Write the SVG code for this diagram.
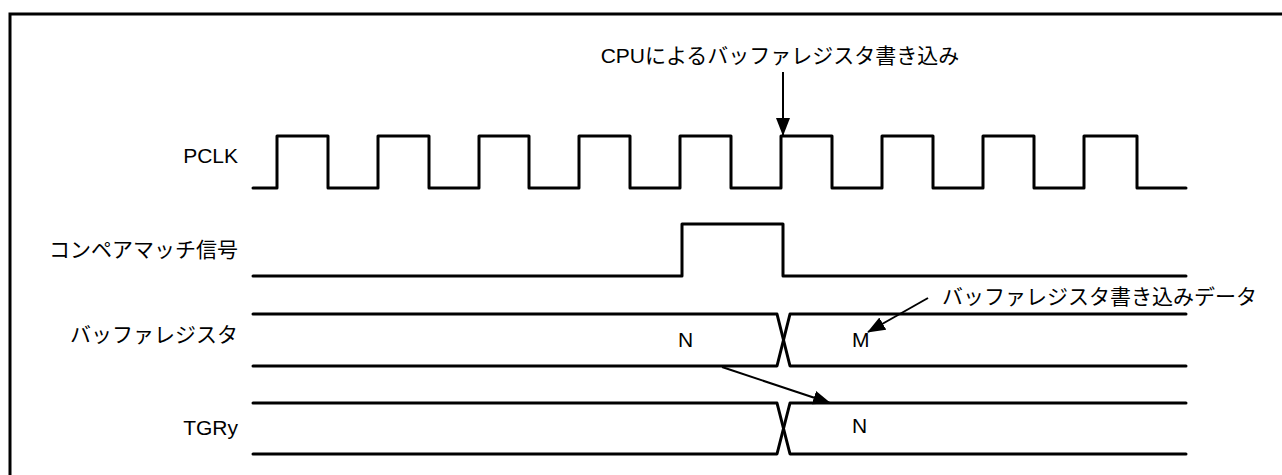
<svg xmlns="http://www.w3.org/2000/svg" width="1282" height="475" viewBox="0 0 1282 475">
<style>
.t{font-family:"Liberation Sans","Noto Sans CJK JP",sans-serif;font-size:21px;fill:#000}
.lbl{text-anchor:end}
.sig{fill:none;stroke:#000;stroke-width:3;stroke-linejoin:round;stroke-linecap:round}
.arr{fill:none;stroke:#000;stroke-width:2}
</style>
<defs>
<marker id="ah" markerWidth="18" markerHeight="14" refX="17" refY="7" orient="auto" markerUnits="userSpaceOnUse">
<path d="M0,0 L18,7 L0,14 Z" fill="#000"/>
</marker>
</defs>
<rect width="1282" height="475" fill="#fff"/>
<rect x="10" y="14" width="1290" height="480" fill="none" stroke="#000" stroke-width="3"/>
<g id="pclk">
<text class="t lbl" x="238" y="163">PCLK</text>
<path class="sig" d="M253,188 H277 V136 H328 V188 H378 V136 H429 V188 H479 V136 H529 V188 H579 V136 H630 V188 H680 V136 H731 V188 H781 V136 H832 V188 H882 V136 H933 V188 H983 V136 H1034 V188 H1084 V136 H1137 V188 H1186"/>
</g>
<g id="compare">
<text class="t lbl" x="238" y="257">コンペアマッチ信号</text>
<path class="sig" d="M253,276 H682 V224 H783 V276 H1186"/>
</g>
<g id="buffer">
<text class="t lbl" x="238" y="342">バッファレジスタ</text>
<path class="sig" d="M253,314 H777 L790,366 H1186"/>
<path class="sig" d="M253,366 H777 L790,314 H1186"/>
<text class="t" x="678" y="347">N</text>
<text class="t" x="852" y="347">M</text>
</g>
<g id="tgry">
<text class="t lbl" x="238" y="435">TGRy</text>
<path class="sig" d="M253,403 H777 L790,454 H1186"/>
<path class="sig" d="M253,454 H777 L790,403 H1186"/>
<text class="t" x="852" y="433">N</text>
</g>
<g id="cpu-write">
<text class="t" x="780" y="63" text-anchor="middle">CPUによるバッファレジスタ書き込み</text>
</g>
<g id="write-data">
<text class="t" x="942" y="304">バッファレジスタ書き込みデータ</text>
</g>
<g id="connectors">
<line class="arr" x1="783" y1="72" x2="783" y2="135" marker-end="url(#ah)"/>
<line class="arr" x1="928" y1="298" x2="868" y2="332" marker-end="url(#ah)"/>
<line class="arr" x1="722" y1="367" x2="830" y2="403" marker-end="url(#ah)"/>
</g>
</svg>
